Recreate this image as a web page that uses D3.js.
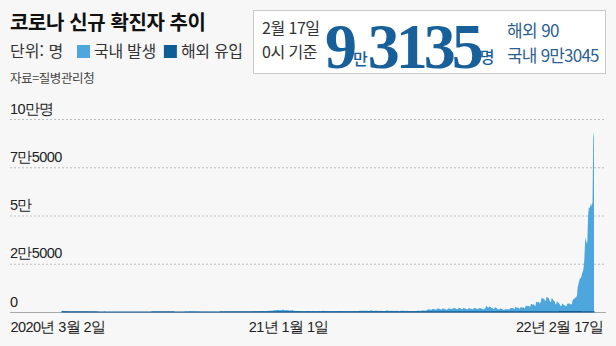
<!DOCTYPE html>
<html lang="ko">
<head>
<meta charset="utf-8">
<script src="https://cdn.jsdelivr.net/npm/d3@7"></script>
<style>
  html, body { margin: 0; padding: 0; background: #f7f7f7; }
  svg { display: block; font-family: "Noto Sans CJK KR", "Noto Sans", sans-serif; }
  .tick-label { font-size: 14.5px; fill: #222; letter-spacing: -0.6px; }
</style>
</head>
<body>
<svg id="chart" width="616" height="346"></svg>
<script>
(function () {
  'use strict';

  /* ── 데이터 : 일별 신규 확진자 (2020-03-02 ~ 2022-02-17) ── */
  var startDate = '2020-03-02';
  var endDate   = '2022-02-17';

  var daily2020 = [
    // 3월 (2일~)
    686, 600, 516, 438, 518, 483, 367, 248, 131, 242, 114, 110, 107, 76, 74, 84, 93, 152, 87, 147, 98, 64, 76, 100, 104, 91, 146, 105, 78, 125,
    // 4월
    101, 89, 86, 94, 81, 47, 47, 53, 39, 27, 30, 32, 25, 27, 27, 22, 22, 18, 8, 13, 9, 11, 8, 6, 10, 10, 10, 14, 9, 4,
    // 5월
    9, 6, 13, 8, 3, 2, 4, 12, 18, 34, 35, 27, 26, 29, 27, 19, 13, 15, 13, 32, 12, 20, 23, 25, 16, 19, 40, 79, 58, 39, 27,
    // 6월
    35, 38, 49, 39, 39, 51, 57, 38, 38, 50, 45, 56, 49, 34, 37, 43, 59, 49, 67, 48, 17, 46, 51, 28, 39, 51, 62, 42, 42, 43,
    // 7월
    51, 54, 63, 63, 61, 48, 44, 63, 50, 45, 35, 44, 62, 33, 39, 61, 60, 39, 34, 26, 45, 63, 59, 41, 113, 58, 25, 28, 48, 18, 36,
    // 8월
    31, 30, 23, 34, 33, 43, 20, 36, 28, 34, 54, 56, 103, 166, 279, 197, 246, 297, 288, 324, 332, 397, 266, 280, 320, 441, 371, 323, 299, 248, 238,
    // 9월
    235, 267, 195, 198, 168, 167, 119, 136, 156, 155, 176, 136, 121, 109, 106, 113, 153, 126, 110, 82, 70, 61, 110, 125, 114, 61, 95, 50, 38, 113,
    // 10월
    77, 63, 75, 64, 73, 75, 114, 69, 54, 72, 58, 97, 102, 84, 110, 47, 73, 91, 76, 58, 89, 121, 155, 77, 61, 119, 88, 103, 125, 114, 127,
    // 11월
    124, 97, 75, 118, 125, 145, 89, 143, 126, 100, 146, 143, 191, 205, 208, 223, 230, 313, 343, 363, 386, 330, 271, 349, 382, 583, 569, 504, 450, 438,
    // 12월
    451, 511, 540, 629, 583, 631, 615, 594, 686, 682, 689, 950, 1030, 718, 880, 1078, 1014, 1064, 1097, 1097, 926, 867, 1092, 985, 1240, 1132, 970, 808, 1046, 1050, 967
  ];

  var daily2021 = [
    // 1월
    1029, 820, 657, 1020, 715, 870, 869, 674, 641, 665, 451, 537, 562, 524, 513, 580, 520, 389, 386, 404, 401, 346, 431, 392, 437, 349, 559, 497, 469, 458, 355,
    // 2월
    305, 336, 467, 451, 370, 393, 372, 289, 303, 444, 504, 403, 362, 326, 344, 457, 621, 621, 561, 448, 416, 332, 356, 440, 396, 406, 415, 355,
    // 3월
    344, 355, 444, 424, 398, 416, 346, 446, 469, 465, 488, 470, 490, 382, 363, 469, 445, 463, 452, 456, 415, 346, 428, 430, 494, 430, 505, 482, 382, 447, 506,
    // 4월
    551, 557, 543, 543, 473, 478, 668, 700, 671, 677, 614, 587, 542, 731, 698, 673, 658, 672, 532, 549, 731, 735, 797, 785, 644, 500, 512, 769, 680, 661,
    // 5월
    627, 606, 488, 541, 676, 525, 701, 564, 463, 463, 511, 635, 715, 747, 681, 610, 619, 528, 654, 646, 561, 666, 585, 530, 516, 707, 629, 587, 533, 480, 430,
    // 6월
    459, 677, 681, 695, 744, 556, 485, 454, 602, 610, 556, 565, 452, 399, 545, 540, 540, 507, 482, 429, 357, 395, 645, 610, 634, 668, 614, 501, 595, 794,
    // 7월
    762, 826, 794, 743, 711, 746, 1212, 1275, 1316, 1378, 1324, 1100, 1150, 1615, 1599, 1536, 1455, 1454, 1252, 1278, 1784, 1842, 1630, 1629, 1487, 1318, 1365, 1896, 1674, 1710, 1539,
    // 8월
    1442, 1218, 1202, 1725, 1776, 1704, 1823, 1729, 1492, 1537, 2223, 1987, 1990, 1928, 1816, 1556, 1372, 1805, 2152, 2050, 1880, 1626, 1418, 1509, 2155, 1882, 1841, 1793, 1619, 1487, 1372,
    // 9월
    2025, 1961, 1709, 1804, 1490, 1375, 1597, 2050, 2049, 1892, 1865, 1755, 1433, 1497, 2080, 1943, 2008, 1910, 1604, 1720, 1346, 1720, 1715, 2431, 3270, 2769, 2383, 2289, 2884, 2564,
    // 10월
    2486, 2086, 2248, 1673, 1575, 2028, 2427, 2175, 1953, 1594, 1297, 1347, 1584, 1939, 1683, 1616, 1419, 1050, 1073, 1571, 1440, 1441, 1508, 1420, 1266, 1265, 1952, 2111, 2124, 2104, 2061,
    // 11월
    1686, 1589, 2667, 2482, 2344, 2248, 2224, 1758, 1715, 2425, 2520, 2368, 2324, 2419, 2006, 2125, 3187, 3292, 3034, 3205, 3120, 2827, 2699, 4116, 4115, 3899, 3901, 3928, 3309, 3032,
    // 12월
    5123, 5266, 4944, 5352, 5128, 4325, 4954, 7175, 7102, 7022, 6977, 6689, 5817, 5567, 7850, 7622, 7435, 7314, 6236, 5318, 5202, 7456, 6919, 6233, 5842, 5419, 4207, 3865, 5409, 5037, 4875
  ];

  var daily2022 = [
    // 1월
    4415, 3833, 3126, 3022, 4443, 4126, 3713, 3511, 3376, 3005, 3094, 4388, 4167, 4542, 4423, 4194, 3859, 4071, 5805, 6603, 6767, 7009, 7630, 7513, 8571, 13012, 14518, 16096, 17542, 17528, 18343,
    // 2월 (~17일)
    20270, 20908, 22907, 27443, 36362, 38691, 35286, 36719, 49567, 54122, 53926, 54941, 56431, 54619, 57177, 90443, 93135
  ];

  /* 해외 유입 : 월평균 (2020년 3월 ~ 2022년 2월) */
  var overseasMonths = ['2020-03', '2020-04', '2020-05', '2020-06', '2020-07', '2020-08', '2020-09', '2020-10', '2020-11', '2020-12',
                        '2021-01', '2021-02', '2021-03', '2021-04', '2021-05', '2021-06', '2021-07', '2021-08', '2021-09', '2021-10', '2021-11', '2021-12',
                        '2022-01', '2022-02'];
  var overseasAvg    = [15, 20, 5, 12, 25, 12, 12, 14, 15, 25,
                        20, 17, 17, 20, 20, 25, 50, 50, 30, 25, 20, 50,
                        250, 100];

  var yTicks      = [0, 25000, 50000, 75000, 100000];
  var yTickLabels = ['0', '2만5000', '5만', '7만5000', '10만명'];
  var xTicks      = ['2020-03-02', '2021-01-01', '2022-02-17'];
  var xTickLabels = ['2020년 3월 2일', '21년 1월 1일', '22년 2월 17일'];

  var legendItems = [
    { label: '국내 발생', color: '#4ea7dc' },
    { label: '해외 유입', color: '#0e5e95' }
  ];

  /* ── 준비 ── */
  var parse  = d3.timeParse('%Y-%m-%d');
  var parseM = d3.timeParse('%Y-%m');
  var fmtM   = d3.timeFormat('%Y-%m');

  var totals = daily2020.concat(daily2021, daily2022);
  var days   = d3.timeDay.range(parse(startDate), d3.timeDay.offset(parse(endDate), 1));

  var overseasByMonth = {};
  overseasMonths.forEach(function (m, i) { overseasByMonth[m] = overseasAvg[i]; });

  var data = days.map(function (d, i) {
    var ov = overseasByMonth[fmtM(d)] || 0;
    return { date: d, total: totals[i], overseas: Math.min(ov, totals[i]) };
  });

  var svg = d3.select('#chart');

  var x = d3.scaleTime()
    .domain([parse(startDate), parse(endDate)])
    .range([62, 594]);

  var y = d3.scaleLinear()
    .domain([0, 100000])
    .range([312, 119]);

  var left = 10, right = 606;

  /* ── 제목 / 범례 ── */
  svg.append('text')
    .attr('x', 10).attr('y', 30)
    .attr('font-size', 20).attr('font-weight', 700)
    .attr('fill', '#111')
    .attr('letter-spacing', -0.4)
    .text('코로나 신규 확진자 추이');

  svg.append('text')
    .attr('x', 10).attr('y', 57)
    .attr('font-size', 16).attr('fill', '#333')
    .text('단위: 명');

  var lg = svg.append('g');
  var lx = 77;
  legendItems.forEach(function (item) {
    lg.append('rect')
      .attr('x', lx).attr('y', 45)
      .attr('width', 13).attr('height', 13)
      .attr('fill', item.color);
    var t = lg.append('text')
      .attr('x', lx + 17).attr('y', 57)
      .attr('font-size', 16).attr('fill', '#333')
      .attr('letter-spacing', -0.3)
      .text(item.label);
    lx += 17 + t.node().getComputedTextLength() + 8;
  });

  svg.append('text')
    .attr('x', 10).attr('y', 83)
    .attr('font-size', 12.5).attr('fill', '#444')
    .attr('letter-spacing', -0.4)
    .text('자료=질병관리청');

  /* ── 요약 박스 ── */
  var box = svg.append('g');
  box.append('rect')
    .attr('x', 253.5).attr('y', 10.5)
    .attr('width', 352).attr('height', 63)
    .attr('fill', '#fff').attr('stroke', '#c8c8c8');

  box.append('text')
    .attr('x', 262).attr('y', 34)
    .attr('font-size', 16).attr('fill', '#333')
    .attr('letter-spacing', -0.5)
    .text('2월 17일');
  box.append('text')
    .attr('x', 262).attr('y', 58)
    .attr('font-size', 16).attr('fill', '#333')
    .attr('letter-spacing', -0.5)
    .text('0시 기준');

  var big = box.append('text')
    .attr('x', 325).attr('y', 68)
    .attr('fill', '#17609a');
  big.append('tspan')
    .attr('font-family', '"Liberation Serif", serif')
    .attr('font-weight', 700).attr('font-size', 64)
    .attr('letter-spacing', -4)
    .text('9');
  big.append('tspan')
    .attr('font-size', 16).attr('font-weight', 500)
    .attr('dy', -3)
    .text('만');
  big.append('tspan')
    .attr('font-family', '"Liberation Serif", serif')
    .attr('font-weight', 700).attr('font-size', 64)
    .attr('letter-spacing', -4)
    .attr('dy', 3)
    .text('3135');
  big.append('tspan')
    .attr('font-size', 16).attr('font-weight', 500)
    .attr('dy', -5)
    .text('명');

  box.append('text')
    .attr('x', 507).attr('y', 37)
    .attr('font-size', 17).attr('fill', '#2d5f8e')
    .attr('letter-spacing', -0.6)
    .text('해외 90');
  box.append('text')
    .attr('x', 507).attr('y', 62)
    .attr('font-size', 17).attr('fill', '#2d5f8e')
    .attr('letter-spacing', -0.8)
    .text('국내 9만3045');

  /* ── 눈금선 (y) ── */
  var yAxis = d3.axisRight(y)
    .tickValues(yTicks)
    .tickSize(right - left)
    .tickFormat(function (d, i) { return yTickLabels[i]; });

  var gy = svg.append('g')
    .attr('transform', 'translate(' + left + ',0)')
    .call(yAxis);
  gy.select('.domain').remove();
  gy.selectAll('.tick line')
    .attr('stroke', '#bdbdbd')
    .attr('stroke-dasharray', '2,2')
    .filter(function (d) { return d === 0; }).remove();
  gy.selectAll('.tick text')
    .attr('class', 'tick-label')
    .attr('x', 0).attr('dy', -6)
    .attr('text-anchor', 'start')
    .attr('font-family', null).attr('font-size', null);

  /* ── 영역 (국내 발생 / 해외 유입) ── */
  var domesticArea = d3.area()
    .x(function (d) { return x(d.date); })
    .y0(function (d) { return y(d.overseas); })
    .y1(function (d) { return y(d.total); });

  var overseasArea = d3.area()
    .x(function (d) { return x(d.date); })
    .y0(y(0))
    .y1(function (d) { return y(d.overseas); });

  // 기준선
  svg.append('line')
    .attr('x1', left).attr('x2', right)
    .attr('y1', y(0) + 0.5).attr('y2', y(0) + 0.5)
    .attr('stroke', '#a8a8a8');

  svg.append('path')
    .datum(data)
    .attr('d', domesticArea)
    .attr('fill', legendItems[0].color);

  svg.append('path')
    .datum(data)
    .attr('d', overseasArea)
    .attr('fill', legendItems[1].color)
    .attr('stroke', legendItems[1].color)
    .attr('stroke-width', 1.2);

  /* ── x축 라벨 ── */
  var xAxis = d3.axisBottom(x)
    .tickValues(xTicks.map(parse))
    .tickSize(0)
    .tickFormat(function (d, i) { return xTickLabels[i]; });

  var gx = svg.append('g')
    .attr('transform', 'translate(0,' + (y(0) + 1) + ')')
    .call(xAxis);
  gx.select('.domain').remove();
  gx.selectAll('.tick text')
    .attr('class', 'tick-label')
    .attr('font-family', null).attr('font-size', null)
    .attr('y', 0).attr('dy', 19)
    .attr('text-anchor', function (d, i) {
      return i === 0 ? 'start' : (i === xTicks.length - 1 ? 'end' : 'middle');
    })
    .attr('x', function (d, i) {
      if (i === 0) return left - x(d);
      if (i === xTicks.length - 1) return 603 - x(d);
      return 0;
    });
})();
</script>
</body>
</html>
